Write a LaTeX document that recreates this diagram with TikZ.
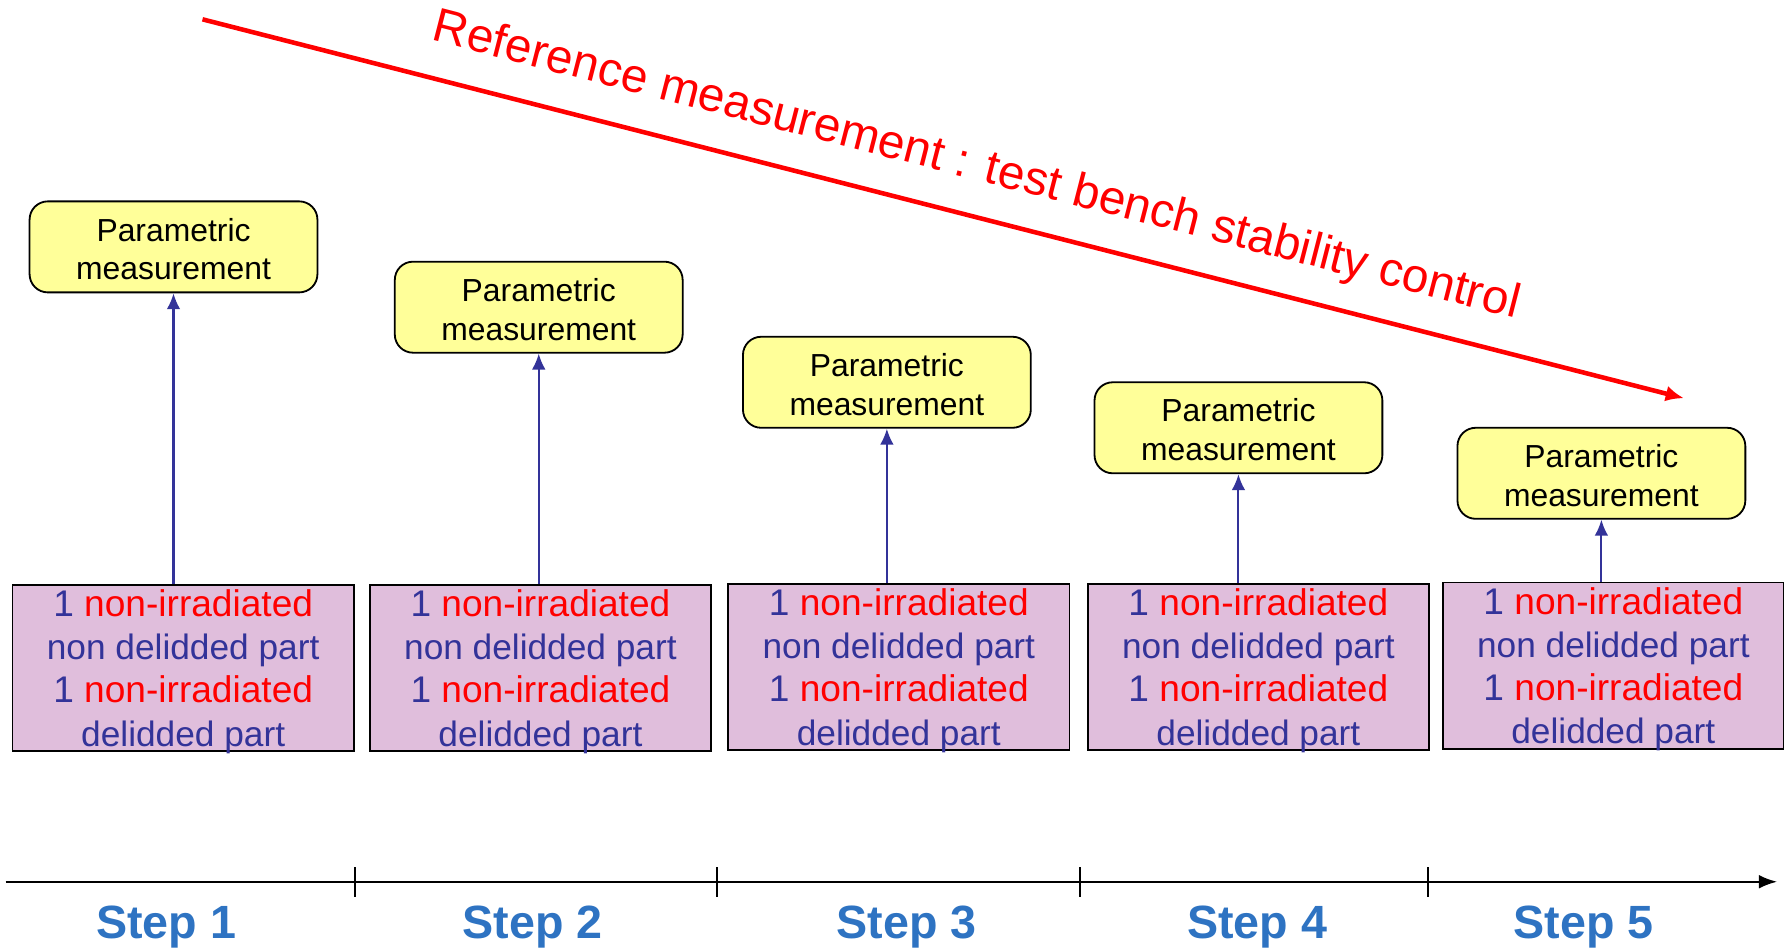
\documentclass[tikz,border=0pt]{standalone}
\usepackage{fontspec}
\setmainfont{Liberation Sans}
\usetikzlibrary{arrows.meta}
\definecolor{measyellow}{RGB}{255,255,153}
\definecolor{partpink}{RGB}{224,190,220}
\definecolor{partblue}{RGB}{51,51,153}
\definecolor{stepblue}{RGB}{46,115,194}
\newcommand{\nonirr}{{\fontsize{16.3}{19}\selectfont 1 \textcolor{red}{non-irradiated}}}

\begin{document}
\begin{tikzpicture}[x=0.5pt,y=0.5pt,
  meas/.style={draw,line width=0.8pt,fill=measyellow,rounded corners=8pt,minimum width=126.5pt,minimum height=40pt,align=center,inner sep=0pt,text height=29pt,font=\fontsize{14}{17}\selectfont},
  parts/.style={draw,line width=0.8pt,fill=partpink,minimum width=150pt,minimum height=73pt,align=center,inner sep=0pt,text depth=0pt,text=partblue,font=\fontsize{15.5}{19}\selectfont},
  up/.style={draw=partblue,line width=0.9pt,-{Latex[length=7pt,width=6pt]}},
  steplbl/.style={text=stepblue,font=\fontsize{20.5}{24}\selectfont\bfseries}]
\useasboundingbox (0,0) rectangle (1568,835);

% stability control line
\coordinate (rs) at (178,818);
\coordinate (re) at (1480,485);
\draw[red,line width=2pt,-{Latex[length=8pt,width=7pt]}] (rs) -- (re);
\node[text=red,rotate=-14.4,font=\fontsize{21}{25}\selectfont] (ttl) at (858,688) {Reference measurement : test bench stability control};

% measurements
\node[meas] (m1) at (152.5,618) {Parametric\\measurement};
\node[meas] (m2) at (473.5,565) {Parametric\\measurement};
\node[meas] (m3) at (779.5,499) {Parametric\\measurement};
\node[meas] (m4) at (1088.5,459) {Parametric\\measurement};
\node[meas] (m5) at (1407.5,419) {Parametric\\measurement};

% parts
\node[parts] (p1) at (161,248) {\nonirr\\non delidded part\\\nonirr\\delidded part};
\node[parts] (p2) at (475,248) {\nonirr\\non delidded part\\\nonirr\\delidded part};
\node[parts] (p3) at (790,249) {\nonirr\\non delidded part\\\nonirr\\delidded part};
\node[parts] (p4) at (1106,249) {\nonirr\\non delidded part\\\nonirr\\delidded part};
\node[parts] (p5) at (1418,250) {\nonirr\\non delidded part\\\nonirr\\delidded part};

\draw[up] (p1.north -| m1.south) -- (m1.south);
\draw[up] (p2.north -| m2.south) -- (m2.south);
\draw[up] (p3.north -| m3.south) -- (m3.south);
\draw[up] (p4.north -| m4.south) -- (m4.south);
\draw[up] (p5.north -| m5.south) -- (m5.south);

% time axis
\coordinate (a0) at (5,60);
\coordinate (a1) at (1562,60);
\draw[line width=1pt,-{Latex[length=8pt,width=6pt]}] (a0) -- (a1);
\draw[line width=1pt] (312,47)--(312,73);
\draw[line width=1pt] (630,47)--(630,73);
\draw[line width=1pt] (949,47)--(949,73);
\draw[line width=1pt] (1255,47)--(1255,73);

\node[steplbl] (s1) at (146,20) {Step 1};
\node[steplbl] (s2) at (468,20) {Step 2};
\node[steplbl] (s3) at (797,20) {Step 3};
\node[steplbl] (s4) at (1105,20) {Step 4};
\node[steplbl] (s5) at (1392,20) {Step 5};
\end{tikzpicture}
\end{document}
